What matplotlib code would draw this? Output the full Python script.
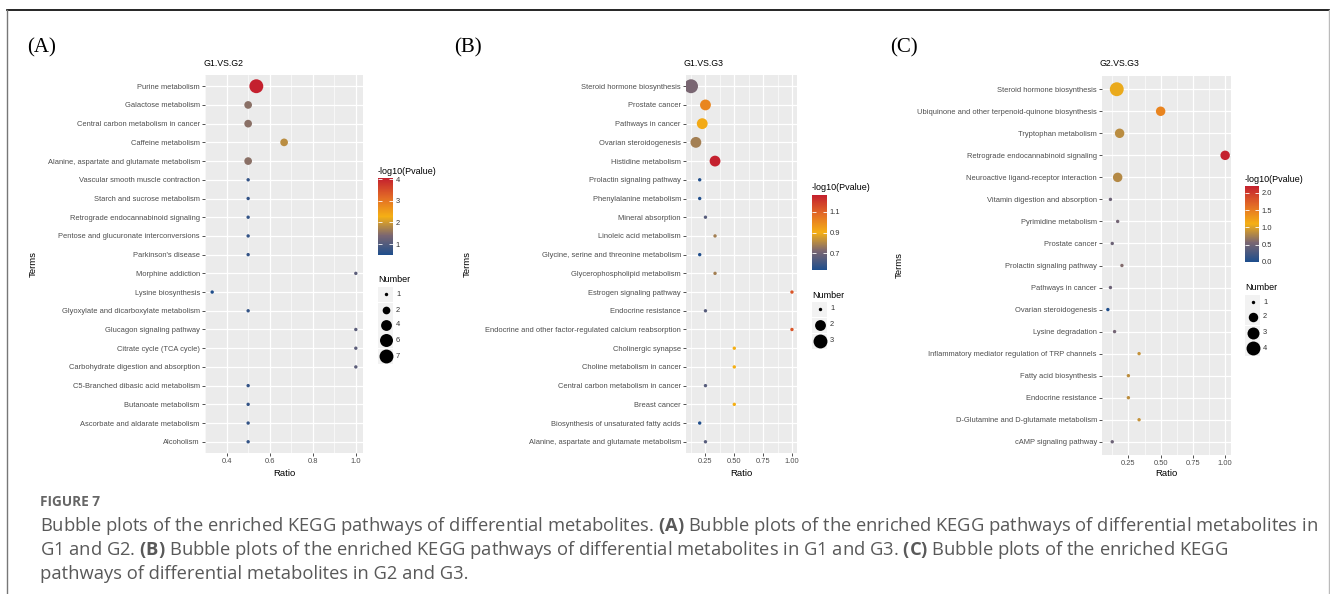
import matplotlib
matplotlib.use("Agg")
import matplotlib.pyplot as plt
import numpy as np
from matplotlib.cm import ScalarMappable
from matplotlib.colors import LinearSegmentedColormap, Normalize
from matplotlib.patches import Rectangle

W, H = 1330, 594

plt.rcParams.update({
    "font.family": ["Liberation Sans", "DejaVu Sans"],
    "mathtext.fontset": "custom",
    "mathtext.rm": "Open Sans",
    "mathtext.bf": "Open Sans:bold",
})

# ---- data -------------------------------------------------------------
a_terms = ["Purine metabolism", "Galactose metabolism", "Central carbon metabolism in cancer",
           "Caffeine metabolism", "Alanine, aspartate and glutamate metabolism",
           "Vascular smooth muscle contraction", "Starch and sucrose metabolism",
           "Retrograde endocannabinoid signaling", "Pentose and glucuronate interconversions",
           "Parkinson's disease", "Morphine addiction", "Lysine biosynthesis",
           "Glyoxylate and dicarboxylate metabolism", "Glucagon signaling pathway",
           "Citrate cycle (TCA cycle)", "Carbohydrate digestion and absorption",
           "C5-Branched dibasic acid metabolism", "Butanoate metabolism",
           "Ascorbate and aldarate metabolism", "Alcoholism"]
a_ratio = [0.538, 0.5, 0.5, 0.667, 0.5, 0.5, 0.5, 0.5, 0.5, 0.5,
           1.0, 0.333, 0.5, 1.0, 1.0, 1.0, 0.5, 0.5, 0.5, 0.5]
a_pval = [4.05, 1.5, 1.5, 1.85, 1.5, 0.7, 0.7, 0.7, 0.7, 0.7,
          1.1, 0.5, 0.7, 1.1, 1.1, 1.1, 0.7, 0.7, 0.7, 0.7]
a_number = [7, 2, 2, 2, 2, 1, 1, 1, 1, 1, 1, 1, 1, 1, 1, 1, 1, 1, 1, 1]
a_breaks = [1, 2, 4, 6, 7]

b_terms = ["Steroid hormone biosynthesis", "Prostate cancer", "Pathways in cancer",
           "Ovarian steroidogenesis", "Histidine metabolism", "Prolactin signaling pathway",
           "Phenylalanine metabolism", "Mineral absorption", "Linoleic acid metabolism",
           "Glycine, serine and threonine metabolism", "Glycerophospholipid metabolism",
           "Estrogen signaling pathway", "Endocrine resistance",
           "Endocrine and other factor-regulated calcium reabsorption", "Cholinergic synapse",
           "Choline metabolism in cancer", "Central carbon metabolism in cancer",
           "Breast cancer", "Biosynthesis of unsaturated fatty acids",
           "Alanine, aspartate and glutamate metabolism"]
b_ratio = [0.125, 0.25, 0.222, 0.167, 0.333, 0.2, 0.2, 0.25, 0.333, 0.2,
           0.333, 1.0, 0.25, 1.0, 0.5, 0.5, 0.25, 0.5, 0.2, 0.25]
b_pval = [0.72, 1.01, 0.915, 0.78, 1.26, 0.54, 0.54, 0.65, 0.78, 0.54,
          0.78, 1.13, 0.65, 1.13, 0.9, 0.9, 0.65, 0.9, 0.54, 0.65]
b_number = [3, 2, 2, 2, 2, 1, 1, 1, 1, 1, 1, 1, 1, 1, 1, 1, 1, 1, 1, 1]
b_breaks = [1, 2, 3]

c_terms = ["Steroid hormone biosynthesis", "Ubiquinone and other terpenoid-quinone biosynthesis",
           "Tryptophan metabolism", "Retrograde endocannabinoid signaling",
           "Neuroactive ligand-receptor interaction", "Vitamin digestion and absorption",
           "Pyrimidine metabolism", "Prostate cancer", "Prolactin signaling pathway",
           "Pathways in cancer", "Ovarian steroidogenesis", "Lysine degradation",
           "Inflammatory mediator regulation of TRP channels", "Fatty acid biosynthesis",
           "Endocrine resistance", "D-Glutamine and D-glutamate metabolism",
           "cAMP signaling pathway"]
c_ratio = [0.16, 0.5, 0.182, 1.0, 0.167, 0.111, 0.167, 0.125, 0.2, 0.111,
           0.091, 0.143, 0.333, 0.25, 0.25, 0.333, 0.125]
c_pval = [1.06, 1.45, 0.84, 2.2, 0.82, 0.48, 0.52, 0.48, 0.6, 0.48,
          0.01, 0.52, 0.89, 0.85, 0.85, 0.89, 0.48]
c_number = [4, 2, 2, 2, 2, 1, 1, 1, 1, 1, 1, 1, 1, 1, 1, 1, 1]
c_breaks = [1, 2, 3, 4]

CMAP = LinearSegmentedColormap.from_list(
    "kegg", [(0, "#1F4E8C"), (0.25, "#7A6672"), (0.5, "#F5B014"),
             (0.75, "#E26A26"), (1, "#C4202E")])

fig = plt.figure(figsize=(W / 100, H / 100), dpi=100)
over = fig.add_axes([0, 0, 1, 1], zorder=10)
over.set_xlim(0, W)
over.set_ylim(H, 0)
over.axis("off")


def px_box(l, t, r, b):
    return [l / W, 1 - b / H, (r - l) / W, (b - t) / H]


def dot_area(n, nmin, nmax):
    t = (np.asarray(n, float) - nmin) / (nmax - nmin)
    d_px = 1.3 + 2.1 * (1 + 5 * np.sqrt(t))
    return (d_px * 0.72) ** 2


def panel(rect, letter, title, terms, ratio, pval, number, xticks, xlabels,
          cbar_rect, cticks, clabels, key_x, key_ys, breaks, terms_x):
    l, t, r, b = rect
    ax = fig.add_axes(px_box(l, t, r, b))
    ax.set_facecolor("#EBEBEB")
    y = np.arange(len(terms))
    norm = Normalize(min(pval), max(pval))
    ax.scatter(ratio, y, s=dot_area(number, min(number), max(number)), c=pval,
               cmap=CMAP, norm=norm, linewidths=0, zorder=3)
    lo, hi = min(ratio), max(ratio)
    pad = 0.05 * (hi - lo)
    x0, x1 = lo - pad, hi + pad
    ax.set_yticks(y)
    ax.set_yticklabels(terms)
    ax.set_xticks(xticks)
    ax.set_xticklabels(xlabels)
    step = xticks[1] - xticks[0]
    minor = [v - step / 2 for v in xticks] + [xticks[-1] + step / 2]
    ax.set_xticks([m for m in minor if x0 <= m <= x1], minor=True)
    ax.set_xlim(x0, x1)
    ax.set_ylim(len(terms) - 0.4, -0.6)
    ax.grid(True, which="major", color="white", lw=0.9)
    ax.grid(True, which="minor", axis="x", color="white", lw=0.45)
    ax.set_axisbelow(True)
    for s in ax.spines.values():
        s.set_visible(False)
    ax.tick_params(which="major", length=2.2, width=0.6, color="#333333",
                   labelsize=5.4, labelcolor="#4D4D4D", pad=1.5)
    ax.tick_params(which="minor", length=0)

    over.text(l - 2, 64, title, fontsize=6.3, va="center", ha="left")
    over.text((l + r) / 2, 473, "Ratio", fontsize=6.8, ha="center", va="center")
    over.text(terms_x, (t + b) / 2, "Terms", fontsize=6.8, rotation=90,
              ha="center", va="center")
    over.text(letter[1], 48, letter[0], fontsize=15, family="Liberation Serif",
              ha="left", va="center")

    # colour bar
    cl, ct, cr, cb = cbar_rect
    cax = fig.add_axes(px_box(cl, ct, cr, cb))
    cbar = fig.colorbar(ScalarMappable(norm=norm, cmap=CMAP), cax=cax)
    cbar.outline.set_visible(False)
    cbar.set_ticks(cticks)
    cbar.set_ticklabels(clabels)
    cax.tick_params(left=True, right=True, labelleft=False, labelright=True,
                    direction="in", color="white", length=3, width=0.6,
                    labelsize=5.4, labelcolor="#333333", pad=2)
    over.text(cl, ct - 7, "-log10(Pvalue)", fontsize=6.5, ha="left", va="center")

    # size legend
    over.text(cl, key_ys[0] - 14, "Number", fontsize=6.5, ha="left", va="center")
    nmin, nmax = min(number), max(number)
    for yk, br in zip(key_ys, breaks):
        over.add_patch(Rectangle((key_x, yk - 7.5), 15, 15, color="#F2F2F2", lw=0))
        over.scatter([key_x + 7.5], [yk], s=dot_area([br], nmin, nmax), c="black",
                     linewidths=0)
        over.text(key_x + 18, yk, str(br), fontsize=5.4, color="#333333",
                  ha="left", va="center")


panel((205, 75, 363, 453), ("(A)", 27), "G1.VS.G2", a_terms, a_ratio, a_pval, a_number,
      [0.4, 0.6, 0.8, 1.0], ["0.4", "0.6", "0.8", "1.0"],
      (378, 178, 393, 255), [1, 2, 3, 4], ["1", "2", "3", "4"],
      378, [294, 310, 325, 340, 356], a_breaks, 33)
panel((686, 75, 797, 453), ("(B)", 454), "G1.VS.G3", b_terms, b_ratio, b_pval, b_number,
      [0.25, 0.5, 0.75, 1.0], ["0.25", "0.50", "0.75", "1.00"],
      (812, 195, 827, 270), [0.7, 0.9, 1.1], ["0.7", "0.9", "1.1"],
      812, [309, 325, 341], b_breaks, 467)
panel((1102, 76, 1231, 455), ("(C)", 890), "G2.VS.G3", c_terms, c_ratio, c_pval, c_number,
      [0.25, 0.5, 0.75, 1.0], ["0.25", "0.50", "0.75", "1.00"],
      (1245, 186, 1259, 262), [0.0, 0.5, 1.0, 1.5, 2.0], ["0.0", "0.5", "1.0", "1.5", "2.0"],
      1245, [302, 317, 333, 348], c_breaks, 899)

# frame around the figure
over.plot([7, W], [10, 10], color="black", lw=1.2)
over.plot([7, 7], [10, H], color="#777777", lw=1)
over.plot([W - 1.5, W - 1.5], [10, H], color="#BBBBBB", lw=1)

# caption
over.text(40, 502, "FIGURE 7", fontsize=9.8, family="Open Sans", weight="bold",
          color="#666666", ha="left", va="center")
cap = [
    r"Bubble plots of the enriched KEGG pathways of differential metabolites. $\mathbf{(A)}$ "
    r"Bubble plots of the enriched KEGG pathways of differential metabolites in",
    r"G1 and G2. $\mathbf{(B)}$ Bubble plots of the enriched KEGG pathways of differential "
    r"metabolites in G1 and G3. $\mathbf{(C)}$ Bubble plots of the enriched KEGG",
    "pathways of differential metabolites in G2 and G3.",
]
cap_texts = [over.text(40, 526 + 24 * i, line, fontsize=11.2, family="Open Sans",
                       color="#595959", ha="left", va="center")
             for i, line in enumerate(cap)]
renderer = fig.canvas.get_renderer()
width = cap_texts[0].get_window_extent(renderer).width
for tx in cap_texts:
    tx.set_fontsize(11.2 * 1278 / width)

fig.savefig("out.png", dpi=100)
